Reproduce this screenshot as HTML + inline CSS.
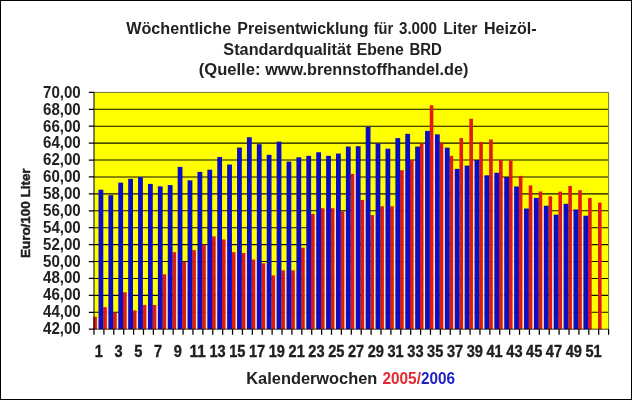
<!DOCTYPE html>
<html><head><meta charset="utf-8"><title>Heizöl Preisentwicklung</title>
<style>html,body{margin:0;padding:0;background:#fff;}body{width:632px;height:400px;overflow:hidden;}svg{display:block;}text{font-family:"Liberation Sans",sans-serif;font-weight:bold;fill:#202020;}</style></head><body>
<svg width="632" height="400" viewBox="0 0 632 400">
<rect x="0" y="0" width="632" height="400" fill="#ffffff"/>
<rect x="0.5" y="0.5" width="631" height="399" fill="none" stroke="#000" stroke-width="1"/>
<rect x="94.0" y="92.4" width="514.60" height="236.79999999999998" fill="#ffff00"/>
<path d="M94.0 109.31H608.6M94.0 126.23H608.6M94.0 143.14H608.6M94.0 160.06H608.6M94.0 176.97H608.6M94.0 193.89H608.6M94.0 210.80H608.6M94.0 227.71H608.6M94.0 244.63H608.6M94.0 261.54H608.6M94.0 278.46H608.6M94.0 295.37H608.6M94.0 312.29H608.6" stroke="#101000" stroke-width="1.1" fill="none"/>
<path d="M94.0 92.4H608.6V329.2" stroke="#777730" stroke-width="1" fill="none"/>
<g fill="#ffe2c4"><rect x="96.70" y="317.77" width="2.00" height="11.43"/><rect x="106.60" y="308.13" width="2.00" height="21.07"/><rect x="116.49" y="313.54" width="2.00" height="15.66"/><rect x="126.39" y="293.24" width="2.00" height="35.96"/><rect x="136.28" y="311.43" width="2.00" height="17.77"/><rect x="146.18" y="305.93" width="2.00" height="23.27"/><rect x="156.08" y="305.93" width="2.00" height="23.27"/><rect x="165.97" y="275.31" width="2.00" height="53.89"/><rect x="175.87" y="253.16" width="2.00" height="76.04"/><rect x="185.77" y="262.80" width="2.00" height="66.40"/><rect x="195.66" y="251.13" width="2.00" height="78.07"/><rect x="205.56" y="245.54" width="2.00" height="83.66"/><rect x="215.45" y="237.43" width="2.00" height="91.77"/><rect x="225.35" y="240.47" width="2.00" height="88.73"/><rect x="235.25" y="253.16" width="2.00" height="76.04"/><rect x="245.14" y="254.00" width="2.00" height="75.20"/><rect x="255.04" y="260.51" width="2.00" height="68.69"/><rect x="264.93" y="264.23" width="2.00" height="64.97"/><rect x="274.83" y="276.41" width="2.00" height="52.79"/><rect x="284.73" y="271.34" width="2.00" height="57.86"/><rect x="294.62" y="271.34" width="2.00" height="57.86"/><rect x="304.52" y="248.67" width="2.00" height="80.53"/><rect x="314.42" y="214.84" width="2.00" height="114.36"/><rect x="324.31" y="209.26" width="2.00" height="119.94"/><rect x="334.21" y="209.26" width="2.00" height="119.94"/><rect x="344.10" y="212.31" width="2.00" height="116.89"/><rect x="354.00" y="174.93" width="2.00" height="154.27"/><rect x="363.90" y="200.97" width="2.00" height="128.23"/><rect x="373.79" y="216.03" width="2.00" height="113.17"/><rect x="383.69" y="207.23" width="2.00" height="121.97"/><rect x="393.58" y="207.23" width="2.00" height="121.97"/><rect x="403.48" y="171.21" width="2.00" height="157.99"/><rect x="413.38" y="161.06" width="2.00" height="168.14"/><rect x="423.27" y="144.14" width="2.00" height="185.06"/><rect x="433.17" y="135.35" width="2.00" height="193.85"/><rect x="443.07" y="148.63" width="2.00" height="180.57"/><rect x="452.96" y="169.85" width="2.00" height="159.35"/><rect x="462.86" y="166.55" width="2.00" height="162.65"/><rect x="472.75" y="161.06" width="2.00" height="168.14"/><rect x="482.65" y="176.28" width="2.00" height="152.92"/><rect x="492.55" y="173.74" width="2.00" height="155.46"/><rect x="502.44" y="177.97" width="2.00" height="151.23"/><rect x="512.34" y="187.44" width="2.00" height="141.76"/><rect x="522.23" y="209.52" width="2.00" height="119.68"/><rect x="532.13" y="198.86" width="2.00" height="130.34"/><rect x="542.03" y="206.73" width="2.00" height="122.47"/><rect x="551.92" y="215.61" width="2.00" height="113.59"/><rect x="561.82" y="204.78" width="2.00" height="124.42"/><rect x="571.72" y="210.45" width="2.00" height="118.75"/><rect x="581.61" y="216.71" width="2.00" height="112.49"/></g>
<g fill="#e01a0c"><rect x="93.30" y="316.77" width="3.6" height="12.43"/><rect x="103.20" y="307.13" width="3.6" height="22.07"/><rect x="113.09" y="312.54" width="3.6" height="16.66"/><rect x="122.99" y="292.24" width="3.6" height="36.96"/><rect x="132.88" y="310.43" width="3.6" height="18.77"/><rect x="142.78" y="304.93" width="3.6" height="24.27"/><rect x="152.68" y="304.93" width="3.6" height="24.27"/><rect x="162.57" y="274.31" width="3.6" height="54.89"/><rect x="172.47" y="252.16" width="3.6" height="77.04"/><rect x="182.37" y="261.80" width="3.6" height="67.40"/><rect x="192.26" y="250.13" width="3.6" height="79.07"/><rect x="202.16" y="244.54" width="3.6" height="84.66"/><rect x="212.05" y="236.43" width="3.6" height="92.77"/><rect x="221.95" y="239.47" width="3.6" height="89.73"/><rect x="231.85" y="252.16" width="3.6" height="77.04"/><rect x="241.74" y="253.00" width="3.6" height="76.20"/><rect x="251.64" y="259.51" width="3.6" height="69.69"/><rect x="261.53" y="263.23" width="3.6" height="65.97"/><rect x="271.43" y="275.41" width="3.6" height="53.79"/><rect x="281.33" y="270.34" width="3.6" height="58.86"/><rect x="291.22" y="270.34" width="3.6" height="58.86"/><rect x="301.12" y="247.67" width="3.6" height="81.53"/><rect x="311.02" y="213.84" width="3.6" height="115.36"/><rect x="320.91" y="208.26" width="3.6" height="120.94"/><rect x="330.81" y="208.26" width="3.6" height="120.94"/><rect x="340.70" y="211.31" width="3.6" height="117.89"/><rect x="350.60" y="173.93" width="3.6" height="155.27"/><rect x="360.50" y="199.97" width="3.6" height="129.23"/><rect x="370.39" y="215.03" width="3.6" height="114.17"/><rect x="380.29" y="206.23" width="3.6" height="122.97"/><rect x="390.18" y="206.23" width="3.6" height="122.97"/><rect x="400.08" y="170.21" width="3.6" height="158.99"/><rect x="409.98" y="160.06" width="3.6" height="169.14"/><rect x="419.87" y="143.14" width="3.6" height="186.06"/><rect x="429.77" y="105.34" width="3.6" height="223.86"/><rect x="439.67" y="142.64" width="3.6" height="186.56"/><rect x="449.56" y="155.83" width="3.6" height="173.37"/><rect x="459.46" y="138.07" width="3.6" height="191.13"/><rect x="469.35" y="118.70" width="3.6" height="210.50"/><rect x="479.25" y="141.87" width="3.6" height="187.33"/><rect x="489.15" y="139.42" width="3.6" height="189.78"/><rect x="499.04" y="160.06" width="3.6" height="169.14"/><rect x="508.94" y="160.56" width="3.6" height="168.64"/><rect x="518.83" y="175.87" width="3.6" height="153.33"/><rect x="528.73" y="185.43" width="3.6" height="143.77"/><rect x="538.63" y="191.52" width="3.6" height="137.68"/><rect x="548.52" y="196.34" width="3.6" height="132.86"/><rect x="558.42" y="191.60" width="3.6" height="137.60"/><rect x="568.32" y="185.94" width="3.6" height="143.26"/><rect x="578.21" y="190.25" width="3.6" height="138.95"/><rect x="588.11" y="197.86" width="3.6" height="131.34"/><rect x="598.00" y="202.60" width="3.6" height="126.60"/></g>
<g fill="#0c0cc4"><rect x="98.50" y="189.66" width="4.8" height="139.54"/><rect x="108.40" y="195.15" width="4.8" height="134.05"/><rect x="118.29" y="182.64" width="4.8" height="146.56"/><rect x="128.19" y="178.83" width="4.8" height="150.37"/><rect x="138.08" y="177.14" width="4.8" height="152.06"/><rect x="147.98" y="183.91" width="4.8" height="145.29"/><rect x="157.88" y="186.36" width="4.8" height="142.84"/><rect x="167.77" y="185.09" width="4.8" height="144.11"/><rect x="177.67" y="166.91" width="4.8" height="162.29"/><rect x="187.57" y="180.35" width="4.8" height="148.85"/><rect x="197.46" y="171.90" width="4.8" height="157.30"/><rect x="207.36" y="169.70" width="4.8" height="159.50"/><rect x="217.25" y="157.01" width="4.8" height="172.19"/><rect x="227.15" y="164.54" width="4.8" height="164.66"/><rect x="237.05" y="147.54" width="4.8" height="181.66"/><rect x="246.94" y="137.22" width="4.8" height="191.98"/><rect x="256.84" y="144.16" width="4.8" height="185.04"/><rect x="266.73" y="154.81" width="4.8" height="174.39"/><rect x="276.63" y="141.62" width="4.8" height="187.58"/><rect x="286.53" y="161.58" width="4.8" height="167.62"/><rect x="296.42" y="157.27" width="4.8" height="171.93"/><rect x="306.32" y="155.83" width="4.8" height="173.37"/><rect x="316.22" y="152.28" width="4.8" height="176.92"/><rect x="326.11" y="155.83" width="4.8" height="173.37"/><rect x="336.01" y="153.55" width="4.8" height="175.65"/><rect x="345.90" y="146.53" width="4.8" height="182.67"/><rect x="355.80" y="146.19" width="4.8" height="183.01"/><rect x="365.70" y="126.74" width="4.8" height="202.46"/><rect x="375.59" y="143.40" width="4.8" height="185.80"/><rect x="385.49" y="148.64" width="4.8" height="180.56"/><rect x="395.38" y="138.07" width="4.8" height="191.13"/><rect x="405.28" y="133.84" width="4.8" height="195.36"/><rect x="415.18" y="146.53" width="4.8" height="182.67"/><rect x="425.07" y="130.88" width="4.8" height="198.32"/><rect x="434.97" y="134.35" width="4.8" height="194.85"/><rect x="444.87" y="147.63" width="4.8" height="181.57"/><rect x="454.76" y="168.85" width="4.8" height="160.35"/><rect x="464.66" y="165.55" width="4.8" height="163.65"/><rect x="474.55" y="160.06" width="4.8" height="169.14"/><rect x="484.45" y="175.28" width="4.8" height="153.92"/><rect x="494.35" y="172.74" width="4.8" height="156.46"/><rect x="504.24" y="176.97" width="4.8" height="152.23"/><rect x="514.14" y="186.44" width="4.8" height="142.76"/><rect x="524.03" y="208.52" width="4.8" height="120.68"/><rect x="533.93" y="197.86" width="4.8" height="131.34"/><rect x="543.83" y="205.73" width="4.8" height="123.47"/><rect x="553.72" y="214.61" width="4.8" height="114.59"/><rect x="563.62" y="203.78" width="4.8" height="125.42"/><rect x="573.52" y="209.45" width="4.8" height="119.75"/><rect x="583.41" y="215.71" width="4.8" height="113.49"/></g>
<path d="M94.0 91.9V329.7" stroke="#000" stroke-width="1" fill="none"/>
<path d="M93.5 329.2H609.1" stroke="#000" stroke-width="1" stroke-opacity="0.75" fill="none"/>
<path d="M94.00 329.2v5.5M103.90 329.2v5.5M113.79 329.2v5.5M123.69 329.2v5.5M133.58 329.2v5.5M143.48 329.2v5.5M153.38 329.2v5.5M163.27 329.2v5.5M173.17 329.2v5.5M183.07 329.2v5.5M192.96 329.2v5.5M202.86 329.2v5.5M212.75 329.2v5.5M222.65 329.2v5.5M232.55 329.2v5.5M242.44 329.2v5.5M252.34 329.2v5.5M262.23 329.2v5.5M272.13 329.2v5.5M282.03 329.2v5.5M291.92 329.2v5.5M301.82 329.2v5.5M311.72 329.2v5.5M321.61 329.2v5.5M331.51 329.2v5.5M341.40 329.2v5.5M351.30 329.2v5.5M361.20 329.2v5.5M371.09 329.2v5.5M380.99 329.2v5.5M390.88 329.2v5.5M400.78 329.2v5.5M410.68 329.2v5.5M420.57 329.2v5.5M430.47 329.2v5.5M440.37 329.2v5.5M450.26 329.2v5.5M460.16 329.2v5.5M470.05 329.2v5.5M479.95 329.2v5.5M489.85 329.2v5.5M499.74 329.2v5.5M509.64 329.2v5.5M519.53 329.2v5.5M529.43 329.2v5.5M539.33 329.2v5.5M549.22 329.2v5.5M559.12 329.2v5.5M569.02 329.2v5.5M578.91 329.2v5.5M588.81 329.2v5.5M598.70 329.2v5.5M608.60 329.2v5.5M88.8 92.40H94.0M88.8 109.31H94.0M88.8 126.23H94.0M88.8 143.14H94.0M88.8 160.06H94.0M88.8 176.97H94.0M88.8 193.89H94.0M88.8 210.80H94.0M88.8 227.71H94.0M88.8 244.63H94.0M88.8 261.54H94.0M88.8 278.46H94.0M88.8 295.37H94.0M88.8 312.29H94.0M88.8 329.20H94.0" stroke="#000" stroke-width="1.25" fill="none"/>
<defs><filter id="tf" x="0" y="0" width="632" height="400" filterUnits="userSpaceOnUse"><feGaussianBlur stdDeviation="0.35"/></filter></defs><g id="txt" filter="url(#tf)">
<text x="80.7" y="97.80" font-size="16" text-anchor="end" textLength="37.7" lengthAdjust="spacingAndGlyphs">70,00</text>
<text x="80.7" y="114.67" font-size="16" text-anchor="end" textLength="37.7" lengthAdjust="spacingAndGlyphs">68,00</text>
<text x="80.7" y="131.55" font-size="16" text-anchor="end" textLength="37.7" lengthAdjust="spacingAndGlyphs">66,00</text>
<text x="80.7" y="148.42" font-size="16" text-anchor="end" textLength="37.7" lengthAdjust="spacingAndGlyphs">64,00</text>
<text x="80.7" y="165.30" font-size="16" text-anchor="end" textLength="37.7" lengthAdjust="spacingAndGlyphs">62,00</text>
<text x="80.7" y="182.17" font-size="16" text-anchor="end" textLength="37.7" lengthAdjust="spacingAndGlyphs">60,00</text>
<text x="80.7" y="199.05" font-size="16" text-anchor="end" textLength="37.7" lengthAdjust="spacingAndGlyphs">58,00</text>
<text x="80.7" y="215.92" font-size="16" text-anchor="end" textLength="37.7" lengthAdjust="spacingAndGlyphs">56,00</text>
<text x="80.7" y="232.79" font-size="16" text-anchor="end" textLength="37.7" lengthAdjust="spacingAndGlyphs">54,00</text>
<text x="80.7" y="249.67" font-size="16" text-anchor="end" textLength="37.7" lengthAdjust="spacingAndGlyphs">52,00</text>
<text x="80.7" y="266.54" font-size="16" text-anchor="end" textLength="37.7" lengthAdjust="spacingAndGlyphs">50,00</text>
<text x="80.7" y="283.42" font-size="16" text-anchor="end" textLength="37.7" lengthAdjust="spacingAndGlyphs">48,00</text>
<text x="80.7" y="300.29" font-size="16" text-anchor="end" textLength="37.7" lengthAdjust="spacingAndGlyphs">46,00</text>
<text x="80.7" y="317.17" font-size="16" text-anchor="end" textLength="37.7" lengthAdjust="spacingAndGlyphs">44,00</text>
<text x="80.7" y="334.04" font-size="16" text-anchor="end" textLength="37.7" lengthAdjust="spacingAndGlyphs">42,00</text>
<text x="98.75" y="357.4" font-size="16" text-anchor="middle" textLength="8.10" lengthAdjust="spacingAndGlyphs" style="stroke:#202020;stroke-width:0.35px">1</text>
<text x="118.54" y="357.4" font-size="16" text-anchor="middle" textLength="8.10" lengthAdjust="spacingAndGlyphs" style="stroke:#202020;stroke-width:0.35px">3</text>
<text x="138.33" y="357.4" font-size="16" text-anchor="middle" textLength="8.10" lengthAdjust="spacingAndGlyphs" style="stroke:#202020;stroke-width:0.35px">5</text>
<text x="158.12" y="357.4" font-size="16" text-anchor="middle" textLength="8.10" lengthAdjust="spacingAndGlyphs" style="stroke:#202020;stroke-width:0.35px">7</text>
<text x="177.92" y="357.4" font-size="16" text-anchor="middle" textLength="8.10" lengthAdjust="spacingAndGlyphs" style="stroke:#202020;stroke-width:0.35px">9</text>
<text x="197.71" y="357.4" font-size="16" text-anchor="middle" textLength="16.20" lengthAdjust="spacingAndGlyphs" style="stroke:#202020;stroke-width:0.35px">11</text>
<text x="217.50" y="357.4" font-size="16" text-anchor="middle" textLength="16.20" lengthAdjust="spacingAndGlyphs" style="stroke:#202020;stroke-width:0.35px">13</text>
<text x="237.29" y="357.4" font-size="16" text-anchor="middle" textLength="16.20" lengthAdjust="spacingAndGlyphs" style="stroke:#202020;stroke-width:0.35px">15</text>
<text x="257.09" y="357.4" font-size="16" text-anchor="middle" textLength="16.20" lengthAdjust="spacingAndGlyphs" style="stroke:#202020;stroke-width:0.35px">17</text>
<text x="276.88" y="357.4" font-size="16" text-anchor="middle" textLength="16.20" lengthAdjust="spacingAndGlyphs" style="stroke:#202020;stroke-width:0.35px">19</text>
<text x="296.67" y="357.4" font-size="16" text-anchor="middle" textLength="16.20" lengthAdjust="spacingAndGlyphs" style="stroke:#202020;stroke-width:0.35px">21</text>
<text x="316.46" y="357.4" font-size="16" text-anchor="middle" textLength="16.20" lengthAdjust="spacingAndGlyphs" style="stroke:#202020;stroke-width:0.35px">23</text>
<text x="336.26" y="357.4" font-size="16" text-anchor="middle" textLength="16.20" lengthAdjust="spacingAndGlyphs" style="stroke:#202020;stroke-width:0.35px">25</text>
<text x="356.05" y="357.4" font-size="16" text-anchor="middle" textLength="16.20" lengthAdjust="spacingAndGlyphs" style="stroke:#202020;stroke-width:0.35px">27</text>
<text x="375.84" y="357.4" font-size="16" text-anchor="middle" textLength="16.20" lengthAdjust="spacingAndGlyphs" style="stroke:#202020;stroke-width:0.35px">29</text>
<text x="395.63" y="357.4" font-size="16" text-anchor="middle" textLength="16.20" lengthAdjust="spacingAndGlyphs" style="stroke:#202020;stroke-width:0.35px">31</text>
<text x="415.43" y="357.4" font-size="16" text-anchor="middle" textLength="16.20" lengthAdjust="spacingAndGlyphs" style="stroke:#202020;stroke-width:0.35px">33</text>
<text x="435.22" y="357.4" font-size="16" text-anchor="middle" textLength="16.20" lengthAdjust="spacingAndGlyphs" style="stroke:#202020;stroke-width:0.35px">35</text>
<text x="455.01" y="357.4" font-size="16" text-anchor="middle" textLength="16.20" lengthAdjust="spacingAndGlyphs" style="stroke:#202020;stroke-width:0.35px">37</text>
<text x="474.80" y="357.4" font-size="16" text-anchor="middle" textLength="16.20" lengthAdjust="spacingAndGlyphs" style="stroke:#202020;stroke-width:0.35px">39</text>
<text x="494.59" y="357.4" font-size="16" text-anchor="middle" textLength="16.20" lengthAdjust="spacingAndGlyphs" style="stroke:#202020;stroke-width:0.35px">41</text>
<text x="514.39" y="357.4" font-size="16" text-anchor="middle" textLength="16.20" lengthAdjust="spacingAndGlyphs" style="stroke:#202020;stroke-width:0.35px">43</text>
<text x="534.18" y="357.4" font-size="16" text-anchor="middle" textLength="16.20" lengthAdjust="spacingAndGlyphs" style="stroke:#202020;stroke-width:0.35px">45</text>
<text x="553.97" y="357.4" font-size="16" text-anchor="middle" textLength="16.20" lengthAdjust="spacingAndGlyphs" style="stroke:#202020;stroke-width:0.35px">47</text>
<text x="573.76" y="357.4" font-size="16" text-anchor="middle" textLength="16.20" lengthAdjust="spacingAndGlyphs" style="stroke:#202020;stroke-width:0.35px">49</text>
<text x="593.56" y="357.4" font-size="16" text-anchor="middle" textLength="16.20" lengthAdjust="spacingAndGlyphs" style="stroke:#202020;stroke-width:0.35px">51</text>
<text x="126.30" y="33.9" font-size="16" textLength="104.86" lengthAdjust="spacingAndGlyphs">Wöchentliche</text>
<text x="237.35" y="33.9" font-size="16" textLength="131.24" lengthAdjust="spacingAndGlyphs">Preisentwicklung</text>
<text x="373.77" y="33.9" font-size="16" textLength="19.44" lengthAdjust="spacingAndGlyphs">für</text>
<text x="398.97" y="33.9" font-size="16" textLength="37.94" lengthAdjust="spacingAndGlyphs">3.000</text>
<text x="443.17" y="33.9" font-size="16" textLength="34.15" lengthAdjust="spacingAndGlyphs">Liter</text>
<text x="483.94" y="33.9" font-size="16" textLength="52.70" lengthAdjust="spacingAndGlyphs">Heizöl-</text>
<text x="223.39" y="54.6" font-size="16" textLength="128.09" lengthAdjust="spacingAndGlyphs">Standardqualität</text>
<text x="356.67" y="54.6" font-size="16" textLength="47.19" lengthAdjust="spacingAndGlyphs">Ebene</text>
<text x="409.42" y="54.6" font-size="16" textLength="32.51" lengthAdjust="spacingAndGlyphs">BRD</text>
<text x="198.77" y="75.1" font-size="16" textLength="61.70" lengthAdjust="spacingAndGlyphs">(Quelle:</text>
<text x="265.25" y="75.1" font-size="16" textLength="203.16" lengthAdjust="spacingAndGlyphs">www.brennstoffhandel.de)</text>
<text x="246.30" y="383.7" font-size="16.4" textLength="131.03" lengthAdjust="spacingAndGlyphs">Kalenderwochen</text>
<text x="382.38" y="383.7" font-size="16.4" textLength="38.55" lengthAdjust="spacingAndGlyphs" style="fill:#e32830">2005/</text>
<text x="421.09" y="383.7" font-size="16.4" textLength="34.06" lengthAdjust="spacingAndGlyphs" style="fill:#2020c8">2006</text>
<text transform="translate(29.9 213.2) rotate(-90)" font-size="13" text-anchor="middle" textLength="89.6" lengthAdjust="spacingAndGlyphs" style="stroke:#202020;stroke-width:0.45px">Euro/100 Liter</text>
</g>
</svg></body></html>
